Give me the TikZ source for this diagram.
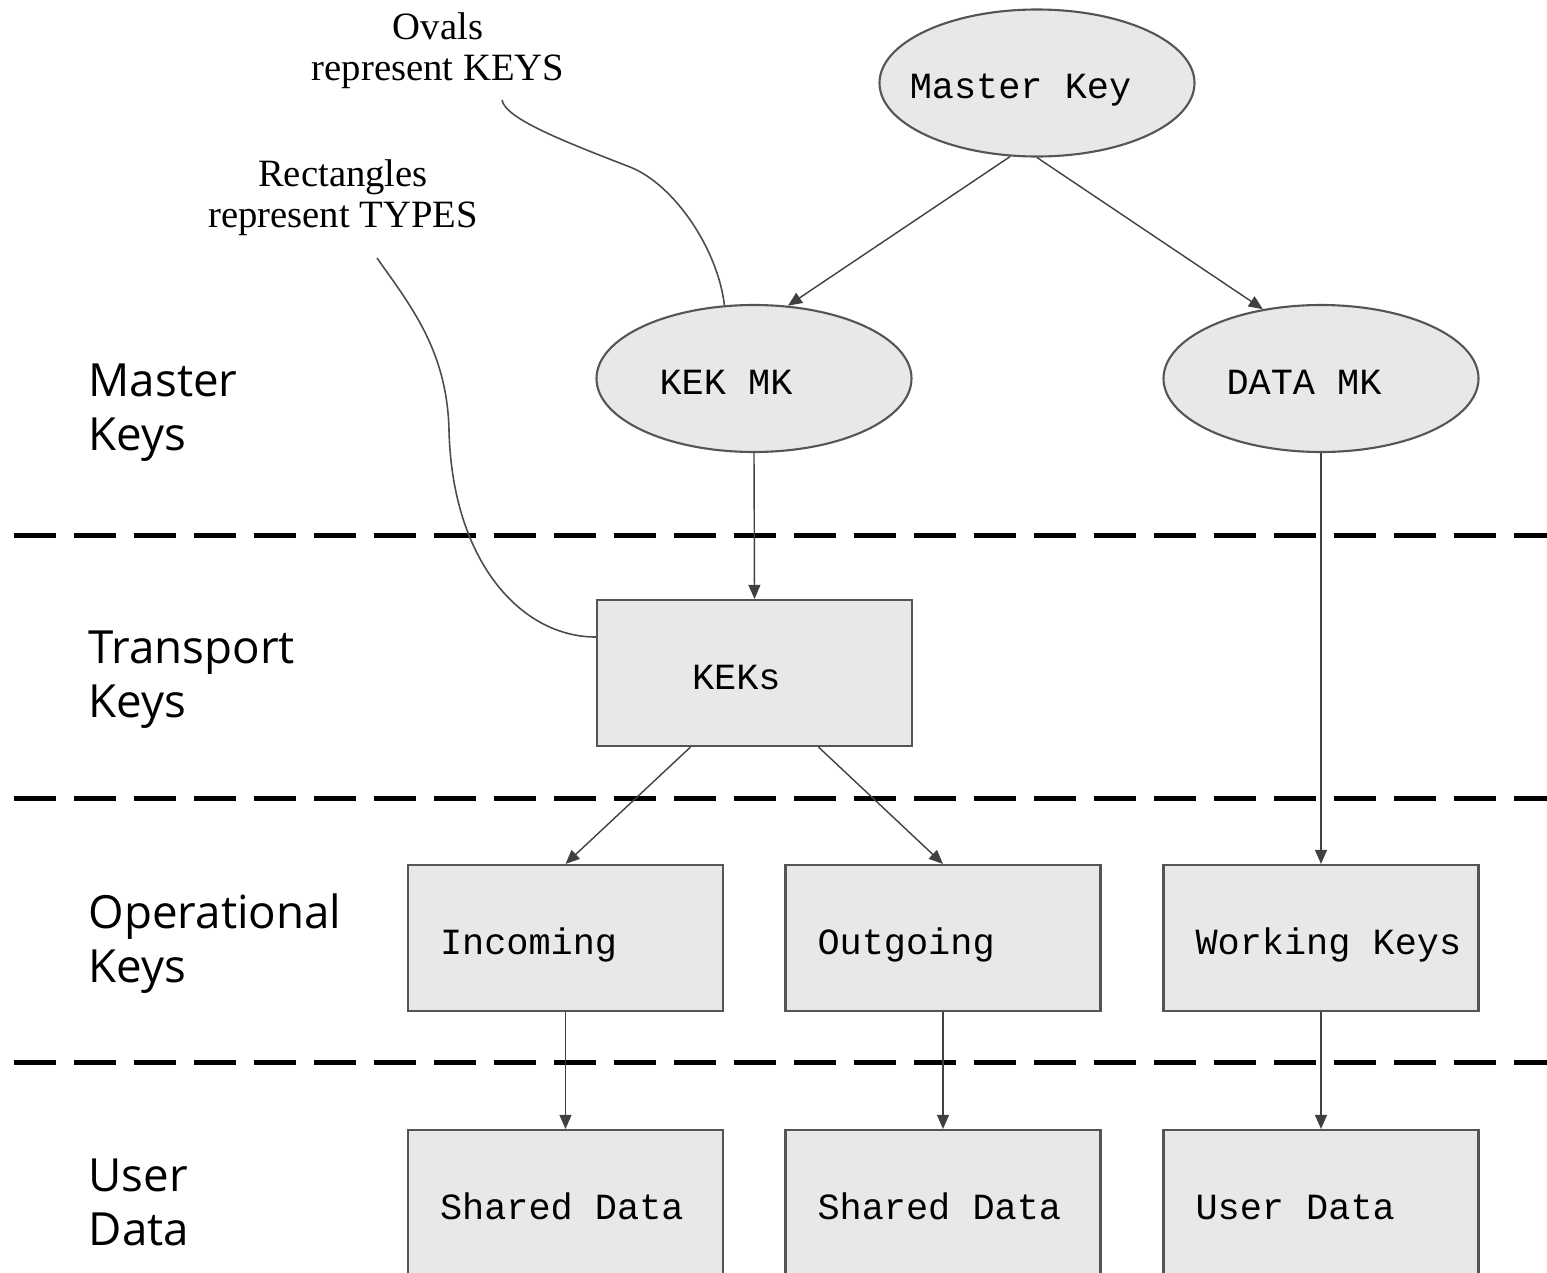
\documentclass[tikz,border=0pt]{standalone}
\usepackage{fontspec}
\setmainfont{Liberation Serif}
\setsansfont{Open Sans}
\setmonofont{Liberation Mono}
\usepackage{tikz}
\usetikzlibrary{arrows.meta, positioning, calc, shapes.geometric}
\usepackage{xcolor}
\definecolor{keyfill}{RGB}{232, 232, 232}
\definecolor{keyline}{RGB}{85, 85, 85}

\begin{document}
\begin{tikzpicture}[
  keyoval/.style={ellipse, draw=keyline, fill=keyfill, line width=0.6pt,
              minimum width=3.15cm, minimum height=1.47cm, inner sep=0pt,
              text height=0.4cm, text depth=0.08cm,
              font=\ttfamily\fontsize{10.5}{12}\selectfont},
  typebox/.style={rectangle, draw=keyline, fill=keyfill, line width=0.6pt,
              minimum width=3.15cm, minimum height=1.46cm, inner xsep=0.16cm,
              text height=0.4cm, text depth=0.08cm,
              font=\ttfamily\fontsize{10.5}{12}\selectfont,
              execute at begin node={\hbox to 2.83cm\bgroup\hskip0.16cm},
              execute at end node={\hfil\egroup}},
  layer/.style={anchor=north west, inner sep=0pt, align=left,
              font=\sffamily\fontsize{13}{15.4}\selectfont},
  note/.style={inner sep=0pt, align=center, font=\fontsize{11}{11.7}\selectfont},
  arr/.style={-{Triangle[length=4pt, width=3.4pt]}, line width=0.4pt, color=black!75},
  lead/.style={line width=0.45pt, color=black!70},
  divider/.style={line width=0.05cm, dash pattern=on 0.42cm off 0.18cm}
]
\useasboundingbox (0,0) rectangle (15.47,-12.73);

% keys
\node[keyoval] (mk)     at (10.37,-0.83)  {\kern-0.33cm Master Key};
\node[keyoval] (kekmk)  at (7.54,-3.785)  {\kern-0.56cm KEK MK};
\node[keyoval] (datamk) at (13.21,-3.785) {\kern-0.34cm DATA MK};

% types
\node[typebox] (keks)     at (7.545,-6.73)  {\hskip0.63cm KEKs};
\node[typebox] (incoming) at (5.655,-9.38)  {Incoming};
\node[typebox] (outgoing) at (9.43,-9.38)   {Outgoing};
\node[typebox] (working)  at (13.21,-9.38)  {Working Keys};
\node[typebox] (shared1)  at (5.655,-12.03) {Shared Data};
\node[typebox] (shared2)  at (9.43,-12.03)  {Shared Data};
\node[typebox] (userdata) at (13.21,-12.03) {User Data};

% layer labels
\node[layer] (lmaster) at (0.88,-3.63)  {Master\\Keys};
\node[layer] (ltrans)  at (0.88,-6.30)  {Transport\\Keys};
\node[layer] (loper)   at (0.88,-8.93)  {Operational\\Keys};
\node[layer] (luser)   at (0.88,-11.58) {User\\Data};

% notes
\node[note] (ovals) at (4.38,-0.51) {Ovals\\represent KEYS};
\node[note] (rects) at (3.43,-1.98) {Rectangles\\represent TYPES};
\coordinate (ovtail) at (5.02,-1.00);
\coordinate (rctail) at (3.77,-2.58);

% layer dividers
\draw[divider] (0.14,-5.35)  -- (15.47,-5.35);
\draw[divider] (0.14,-7.98)  -- (15.47,-7.98);
\draw[divider] (0.14,-10.62) -- (15.47,-10.62);

\draw[arr] (mk.250)     -- (kekmk.65);
\draw[arr] (mk.south)   -- (datamk.130);
\draw[arr] (kekmk.south)  -- (keks.north);
\draw[arr] (datamk.south) -- (working.north);
\draw[arr] ([xshift=-0.64cm]keks.south) -- (incoming.north);
\draw[arr] ([xshift=0.64cm]keks.south)  -- (outgoing.north);
\draw[arr] (incoming.south) -- (shared1.north);
\draw[arr] (outgoing.south) -- (shared2.north);
\draw[arr] (working.south)  -- (userdata.north);

% leader curves
\draw[lead] (ovtail) .. controls (5.05,-1.18) and (5.60,-1.40) .. (6.30,-1.67)
            .. controls (6.75,-1.85) and (7.18,-2.50) .. (kekmk.112);
\draw[lead] (rctail) .. controls (4.10,-3.05) and (4.47,-3.50) .. (4.49,-4.30)
            .. controls (4.52,-5.60) and (5.20,-6.37) .. ([yshift=0.36cm]keks.west);
\end{tikzpicture}
\end{document}
